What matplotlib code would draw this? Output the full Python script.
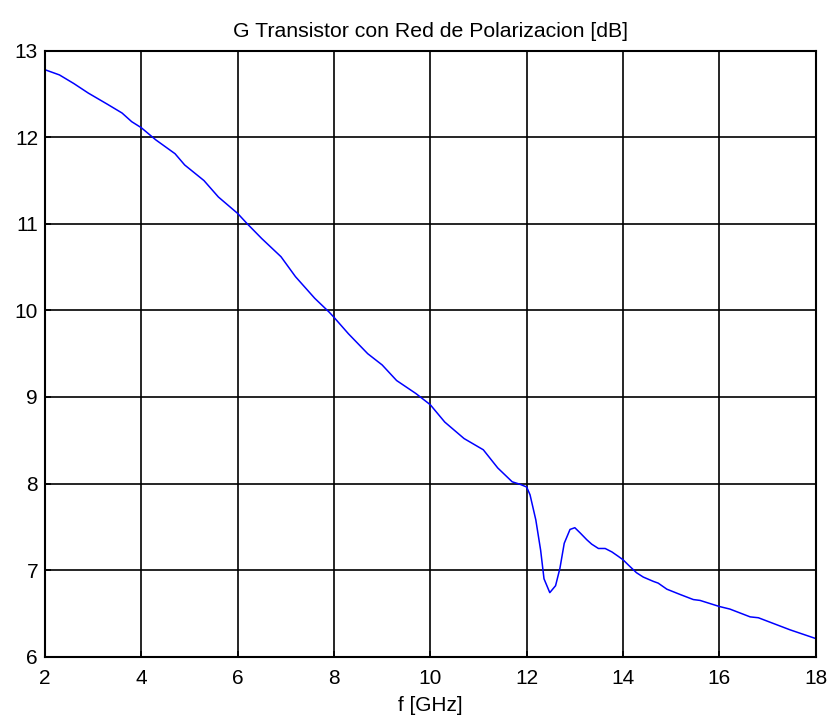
import matplotlib
matplotlib.use("Agg")
import matplotlib.pyplot as plt

freq_ghz = [2.0, 2.3, 2.6, 2.9, 3.3, 3.6, 3.8, 4.0, 4.3, 4.7, 4.9, 5.3, 5.6, 6.0,
            6.2, 6.5, 6.9, 7.2, 7.6, 7.9, 8.0, 8.3, 8.7, 9.0, 9.3, 9.7, 10.0,
            10.3, 10.7, 11.1, 11.4, 11.7, 11.87, 12.0, 12.07, 12.19, 12.29, 12.36,
            12.48, 12.6, 12.69, 12.78, 12.9, 13.0, 13.11, 13.25, 13.35, 13.49,
            13.63, 13.77, 13.9, 14.0, 14.11, 14.28, 14.42, 14.63, 14.73, 14.91,
            15.18, 15.46, 15.6, 16.0, 16.22, 16.64, 16.81, 17.47, 18.0]
gain_db = [12.78, 12.72, 12.62, 12.51, 12.38, 12.28, 12.18, 12.11, 11.97, 11.81,
           11.68, 11.50, 11.31, 11.12, 11.00, 10.83, 10.62, 10.39, 10.14, 9.98,
           9.92, 9.73, 9.50, 9.37, 9.19, 9.04, 8.91, 8.71, 8.52, 8.39, 8.18,
           8.02, 7.99, 7.96, 7.87, 7.58, 7.23, 6.90, 6.74, 6.82, 7.02, 7.31,
           7.47, 7.49, 7.43, 7.35, 7.30, 7.25, 7.25, 7.21, 7.16, 7.12, 7.06,
           6.97, 6.92, 6.87, 6.85, 6.78, 6.72, 6.66, 6.65, 6.58, 6.55, 6.46,
           6.45, 6.31, 6.21]

x_ticks = [2, 4, 6, 8, 10, 12, 14, 16, 18]
y_ticks = [6, 7, 8, 9, 10, 11, 12, 13]
title = "G Transistor con Red de Polarizacion [dB]"
xlabel = "f [GHz]"

plt.rcParams['font.family'] = ['Liberation Sans', 'DejaVu Sans']

fig = plt.figure(figsize=(8.33, 7.23), dpi=100)
ax = fig.add_axes([0.054, 0.0917, 0.9252, 0.8382])
ax.plot(freq_ghz, gain_db, color=(0, 0, 1), linewidth=1.1)
ax.set_xlim(2, 18)
ax.set_ylim(6, 13)
ax.set_xticks(x_ticks)
ax.set_yticks(y_ticks)
ax.grid(True, color='black', linewidth=1.2, linestyle='-')
ax.set_axisbelow(True)
for s in ax.spines.values():
    s.set_linewidth(1.5)
    s.set_color('black')
ax.tick_params(direction='in', length=4, width=1.2, labelsize=15)
ax.tick_params(axis='x', pad=8.5)
ax.tick_params(axis='y', pad=5)
ax.set_title(title, fontsize=15.3, pad=10)
ax.set_xlabel(xlabel, fontsize=15, labelpad=6)
fig.savefig("out.png", dpi=100)
